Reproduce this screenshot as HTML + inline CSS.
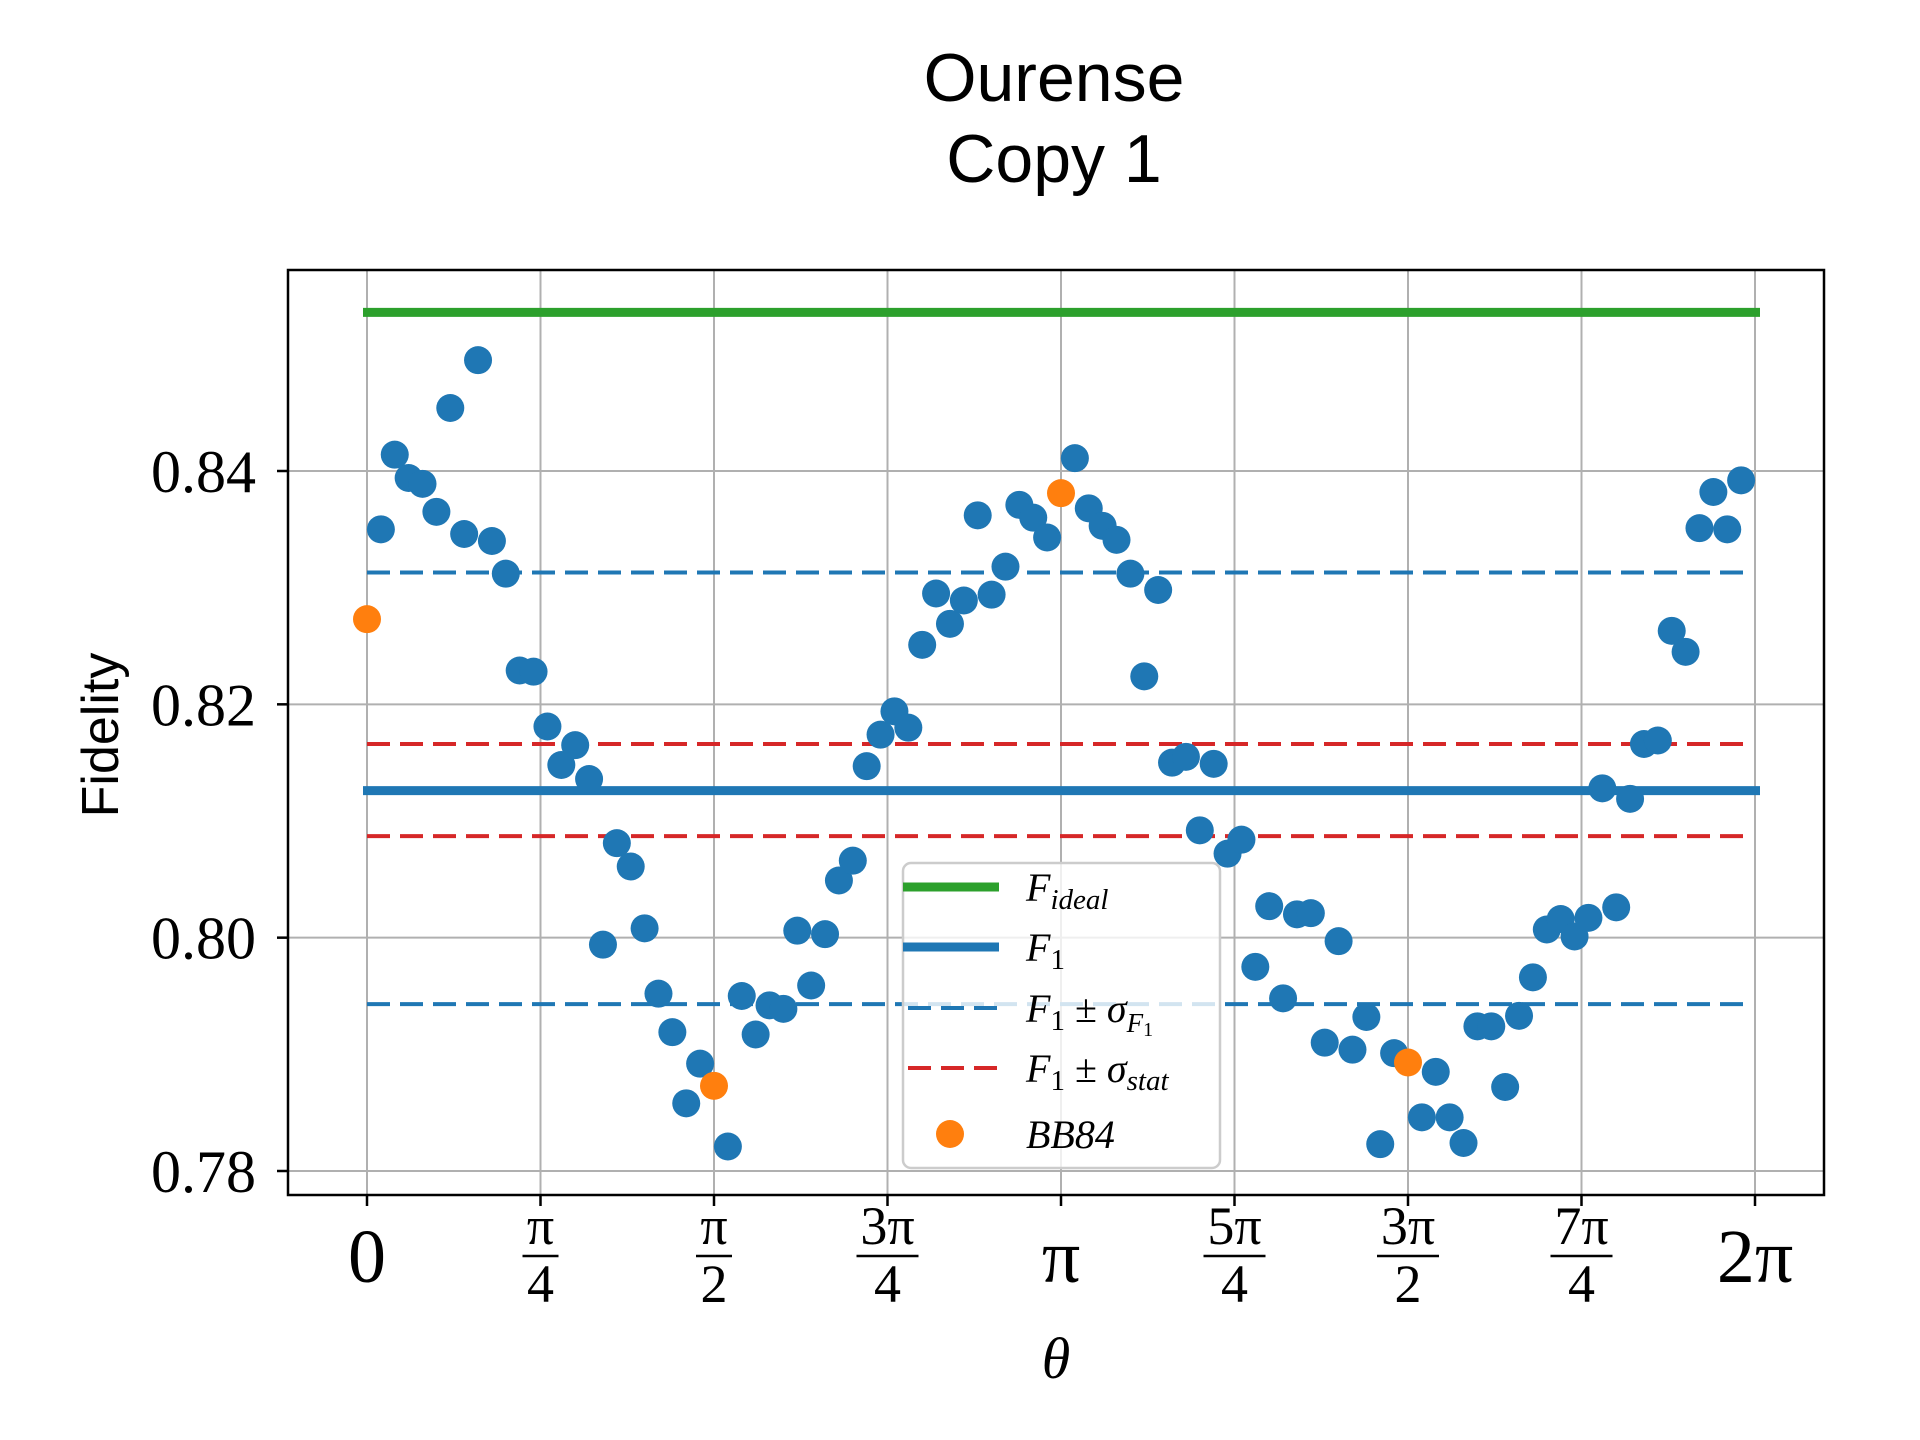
<!DOCTYPE html>
<html><head><meta charset="utf-8"><style>
html,body{margin:0;padding:0;background:#fff;}
svg{display:block;}
.tk{font-family:"Liberation Serif",serif;fill:#000;}
</style></head><body>
<svg id="chart" width="1920" height="1440" viewBox="0 0 1920 1440" xmlns="http://www.w3.org/2000/svg">
<rect x="0" y="0" width="1920" height="1440" fill="#fff"/>
<text x="1054" y="101" text-anchor="middle" font-family="'Liberation Sans',sans-serif" font-size="68">Ourense</text>
<text x="1054" y="182" text-anchor="middle" font-family="'Liberation Sans',sans-serif" font-size="68">Copy 1</text>
<g id="grid"></g>
<g id="marks"></g>
<rect x="288" y="270" width="1536" height="925" fill="none" stroke="#000" stroke-width="2.5"/>
<g id="ticks"></g>
<text transform="translate(118,735) rotate(-90)" text-anchor="middle" font-family="'Liberation Sans',sans-serif" font-size="52">Fidelity</text>
<text x="1056" y="1378" text-anchor="middle" class="tk" font-style="italic" font-size="58">θ</text>
<g transform="translate(0,-5)">
<rect x="903" y="868" width="317" height="305" rx="8" fill="#fff" fill-opacity="0.8" stroke="#ccc" stroke-width="2.5"/>
<line x1="903" y1="892" x2="999" y2="892" stroke="#2ca02c" stroke-width="9"/>
<text x="1026" y="906" class="tk" font-style="italic" font-size="40">F<tspan font-size="29" dy="8">ideal</tspan></text>
<line x1="903" y1="952" x2="999" y2="952" stroke="#1f77b4" stroke-width="9"/>
<text x="1026" y="966" class="tk" font-style="italic" font-size="40">F<tspan font-size="29" dy="8" font-style="normal">1</tspan></text>
<line x1="908" y1="1013" x2="999" y2="1013" stroke="#1f77b4" stroke-width="4" stroke-dasharray="23 10"/>
<text x="1026" y="1027" class="tk" font-style="italic" font-size="40">F<tspan font-size="29" dy="8" font-style="normal">1</tspan><tspan dy="-8" font-style="normal"> ± </tspan>σ<tspan font-size="27" dy="10">F</tspan><tspan font-size="20" dy="4" font-style="normal">1</tspan></text>
<line x1="908" y1="1073" x2="999" y2="1073" stroke="#d62728" stroke-width="4" stroke-dasharray="23 10"/>
<text x="1026" y="1087" class="tk" font-style="italic" font-size="40">F<tspan font-size="29" dy="8" font-style="normal">1</tspan><tspan dy="-8" font-style="normal"> ± </tspan>σ<tspan font-size="29" dy="8">stat</tspan></text>
<circle cx="950" cy="1139" r="14" fill="#ff7f0e"/>
<text x="1026" y="1153" class="tk" font-style="italic" font-size="40">BB84</text>
</g>
</svg>
<script>
const fidelity = [null,0.8350,0.8414,0.8394,0.8389,0.8365,0.8454,0.8346,0.8495,0.8340,
0.8312,0.8229,0.8228,0.8181,0.8148,0.8165,0.8136,0.7994,0.8081,0.8061,
0.8008,0.7952,0.7919,0.7858,0.7892,null,0.7821,0.7950,0.7917,0.7942,
0.7939,0.8006,0.7959,0.8003,0.8049,0.8066,0.8147,0.8174,0.8194,0.8180,
0.8251,0.8295,0.8269,0.8289,0.8362,0.8294,0.8318,0.8371,0.8360,0.8343,
null,0.8411,0.8368,0.8353,0.8341,0.8312,0.8224,0.8298,0.8150,0.8155,
0.8092,0.8149,0.8072,0.8084,0.7975,0.8027,0.7948,0.8020,0.8021,0.7910,
0.7997,0.7904,0.7932,0.7823,0.7901,null,0.7846,0.7885,0.7846,0.7824,
0.7924,0.7924,0.7872,0.7933,0.7966,0.8007,0.8016,0.8001,0.8017,0.8128,
0.8026,0.8119,0.8166,0.8169,0.8263,0.8245,0.8351,0.8382,0.8350,0.8392];
const bb84Index = [0,25,50,75];
const bb84Values = [0.8273,0.7873,0.8381,0.7893];
const fIdeal = 0.8536;
const f1 = 0.8126;
const sigmaF1 = [0.8313,0.7943];
const sigmaStat = [0.8166,0.8087];
const yTicks = [0.78,0.80,0.82,0.84];
const yTickLabels = ["0.78","0.80","0.82","0.84"];
const xTickNum = ["0","π","π","3π","π","5π","3π","7π","2π"];
const xTickDen = ["","4","2","4","","4","2","4",""];

const NS="http://www.w3.org/2000/svg";
const X0=367, X1=1755, Y84=471, Y78=1171;
function xs(t){return X0+(X1-X0)*t/(2*Math.PI);}
function ys(v){return Y78+(Y84-Y78)*(v-0.78)/0.06;}
function mk(tag,attrs,parent){const e=document.createElementNS(NS,tag);for(const k in attrs)e.setAttribute(k,attrs[k]);parent.appendChild(e);return e;}
const grid=document.getElementById('grid'),marks=document.getElementById('marks'),ticks=document.getElementById('ticks');
const N=fidelity.length;
for(let i=0;i<=8;i++){
  const x=xs(i*Math.PI/4);
  const g=mk('line',{x1:x,y1:270,x2:x,y2:1195,stroke:'#b0b0b0','stroke-width':2},grid);
  
  
  const t=mk('line',{x1:x,y1:1195,x2:x,y2:1206,stroke:'#000','stroke-width':2.5},ticks);
  
  
  if(xTickDen[i]===""){
    const tx=mk('text',{x:x,y:1282,'text-anchor':'middle','class':'tk','font-size':76},ticks);
    tx.textContent=xTickNum[i];
    
    
  } else {
    const n=mk('text',{x:x,y:1244,'text-anchor':'middle','class':'tk','font-size':54},ticks);
    n.textContent=xTickNum[i];
    
    
    const w=xTickNum[i].length>1?62:36;
    const b=mk('line',{x1:x-w/2,y1:1256,x2:x+w/2,y2:1256,stroke:'#000','stroke-width':2.5},ticks);
    
    
    const d=mk('text',{x:x,y:1302,'text-anchor':'middle','class':'tk','font-size':54},ticks);
    d.textContent=xTickDen[i];
    
    
  }
}
yTicks.forEach((v,i)=>{
  const y=ys(v);
  const g=mk('line',{x1:288,y1:y,x2:1824,y2:y,stroke:'#b0b0b0','stroke-width':2},grid);
  
  
  const t=mk('line',{x1:277,y1:y,x2:288,y2:y,stroke:'#000','stroke-width':2.5},ticks);
  
  
  const tx=mk('text',{x:256,y:y+21,'text-anchor':'end','class':'tk','font-size':60},ticks);
  tx.textContent=yTickLabels[i];
  
  
});
const tEnd=2*Math.PI*(N-1)/N;
function hline(v,color,w,dash,name,xEnd){
  const l=mk('line',{x1:xs(0)-(dash?0:4),y1:ys(v),x2:xEnd,y2:ys(v),stroke:color,'stroke-width':w},marks);
  if(dash)l.setAttribute('stroke-dasharray',dash);
  
  
}
hline(fIdeal,'#2ca02c',9,null,'f-ideal-line',xs(2*Math.PI)+5);
sigmaF1.forEach(v=>hline(v,'#1f77b4',4,'23 10','f1-sigma-f1-line',xs(tEnd)+8));
sigmaStat.forEach(v=>hline(v,'#d62728',4,'23 10','f1-sigma-stat-line',xs(tEnd)+8));
hline(f1,'#1f77b4',9,null,'f1-line',xs(2*Math.PI)+5);
fidelity.forEach((v,i)=>{
  if(v===null)return;
  const c=mk('circle',{cx:xs(2*Math.PI*i/N),cy:ys(v),r:14,fill:'#1f77b4'},marks);
  
  
});
bb84Index.forEach((idx,k)=>{
  const c=mk('circle',{cx:xs(2*Math.PI*idx/N),cy:ys(bb84Values[k]),r:14,fill:'#ff7f0e'},marks);
  
  
});
</script>
</body></html>
